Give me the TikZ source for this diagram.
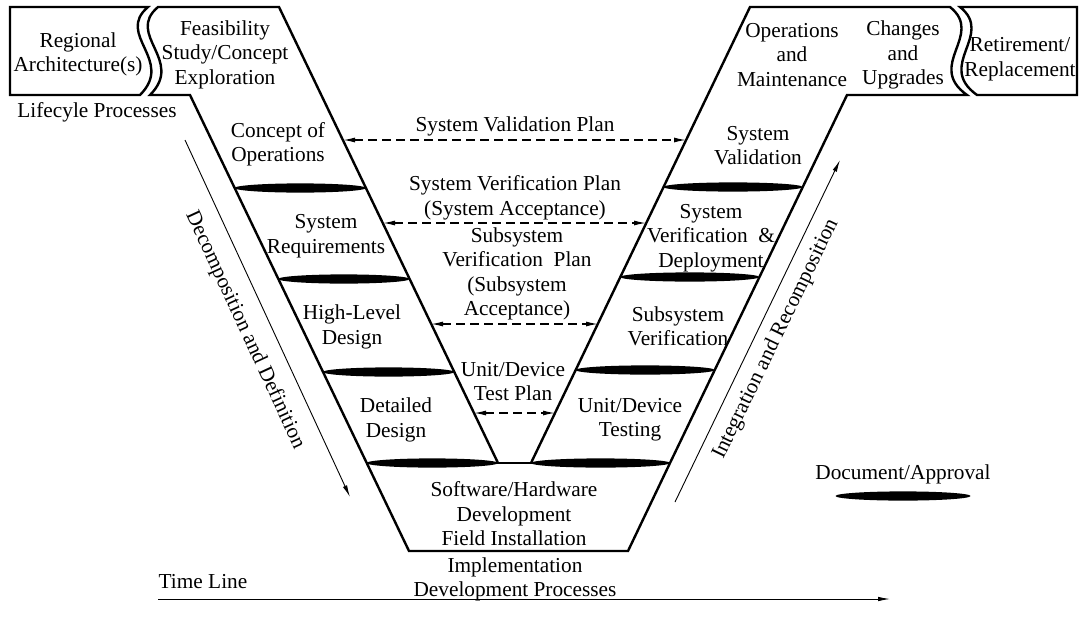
\documentclass[tikz,border=0pt]{standalone}
\usepackage{fontspec}
\setmainfont{Liberation Serif}
\usetikzlibrary{arrows.meta,calc}
\begin{document}
\begin{tikzpicture}[x=1pt,y=-1pt,
  lbl/.style={font=\fontsize{21.3}{24.5}\selectfont, align=center, inner sep=0pt, yshift=-2pt},
  outline/.style={line width=2.4pt, line join=miter},
  plan/.style={line width=1.3pt, dash pattern=on 9pt off 5pt,
    {Latex[length=12pt,width=5pt]}-{Latex[length=12pt,width=5pt]}},
  flow/.style={line width=0.9pt, -{Latex[length=12pt,width=4.5pt]}},
  docmk/.style={fill=black}]

\useasboundingbox (0,0) rectangle (1081,627);

% document / approval mark: filled flat ellipse between two x positions
\newcommand{\docmark}[3]{%
  \fill[docmk] ({(#1+#2)/2},#3) ellipse [x radius={(#2-#1)/2*1pt}, y radius=4.6pt];}

% ---- the V outline ----
\draw[outline] (498,463) -- (279,7) -- (158,7)
  .. controls (125,35) and (185,60) .. (150,95) -- (190,95) -- (409,551)
  -- (628,551) -- (670,463) -- (847,95) -- (967,95)
  .. controls (925,65) and (985,35) .. (950,7) -- (750,7) -- (531,463);
\draw[line width=1.5pt] (367,463) -- (670,463);

% ---- side boxes ----
\draw[outline] (148,7) -- (10,7) -- (10,95) -- (140,95)
  .. controls (175,60) and (115,35) .. (148,7) -- cycle;
\draw[outline] (960,7) -- (1077,7) -- (1077,95) -- (977,95)
  .. controls (935,65) and (995,35) .. (960,7) -- cycle;

% ---- document marks on the left arm ----
\foreach \yy in {188,279,372,463} {
  \pgfmathsetmacro\xa{190+0.48*(\yy-95)}
  \pgfmathsetmacro\xb{279+0.48*(\yy-7)}
  \docmark{\xa}{\xb}{\yy}
}
% ---- document marks on the right arm ----
\foreach \yy in {187,277,370,463} {
  \pgfmathsetmacro\xa{531+0.48*(463-\yy)}
  \pgfmathsetmacro\xb{670+0.48*(463-\yy)}
  \docmark{\xa}{\xb}{\yy}
}

% ---- box texts ----
\node[lbl] (regional) at (78,52.5) {Regional\\Architecture(s)};
\node[lbl] (feas) at (225,52.5) {Feasibility\\Study/Concept\\Exploration};
\node[lbl] (life) at (97,110) {Lifecyle Processes};
\node[lbl] (conops) at (278,142.5) {Concept of\\Operations};
\node[lbl] (sysreq) at (326,234) {System\\Requirements};
\node[lbl] (hld) at (352,325) {High-Level\\Design};
\node[lbl] (dd) at (396,418) {Detailed\\Design};
\node[lbl] (swhw) at (514,512) {Software/Hardware\\Development\\Field Installation};
\node[lbl] (impl) at (515,577.5) {Implementation\\Development Processes};
\node[lbl] (time) at (203,580) {Time Line};
\node[lbl] (om) at (792,53) {Operations\\and\\Maintenance};
\node[lbl] (chg) at (903,53) {Changes\\and\\Upgrades};
\node[lbl] (ret) at (1020,57) {Retirement/\\Replacement};
\node[lbl] (sval) at (758,143.5) {System\\Validation};
\node[lbl] (sver) at (711,236) {System\\Verification\ \ \&\\Deployment};
\node[lbl] (subver) at (678,324.5) {Subsystem\\Verification};
\node[lbl] (unit) at (630,417.5) {Unit/Device\\Testing};
\node[lbl] (docleg) at (903,472) {Document/Approval};
\docmark{835.5}{970.5}{496}

% ---- plan labels ----
\node[lbl] (svp) at (515,124) {System Validation Plan};
\node[lbl] (sverp) at (515,196) {System Verification Plan\\(System Acceptance)};
\node[lbl] (subp) at (517,272) {Subsystem\\Verification\ \ Plan\\(Subsystem\\Acceptance)};
\node[lbl] (utp) at (513,379.5) {Unit/Device\\Test Plan};

% ---- plan connectors between the arms ----
\coordinate (valL) at (343,140);  \coordinate (valR) at (686,140);
\coordinate (verL) at (383,223);  \coordinate (verR) at (646,223);
\coordinate (subL) at (431,324);  \coordinate (subR) at (598,324);
\coordinate (unitL) at (474,413); \coordinate (unitR) at (555,413);
\draw[plan] (valL) -- (valR);
\draw[plan] (verL) -- (verR);
\draw[plan] (subL) -- (subR);
\draw[plan] (unitL) -- (unitR);

% ---- process direction arrows ----
\coordinate (decA) at (185,140); \coordinate (decB) at (350,497);
\coordinate (intA) at (675,502); \coordinate (intB) at (840,160);
\coordinate (tlA) at (158,599);  \coordinate (tlB) at (890,599);
\draw[flow] (decA) -- (decB);
\draw[flow] (intA) -- (intB);
\draw[flow] (tlA) -- (tlB);
\node[lbl, rotate=-65.2] (decomp) at (245,328) {Decomposition and Definition};
\node[lbl, rotate=64.2] (integ) at (776,337) {Integration and Recomposition};

\end{tikzpicture}
\end{document}
